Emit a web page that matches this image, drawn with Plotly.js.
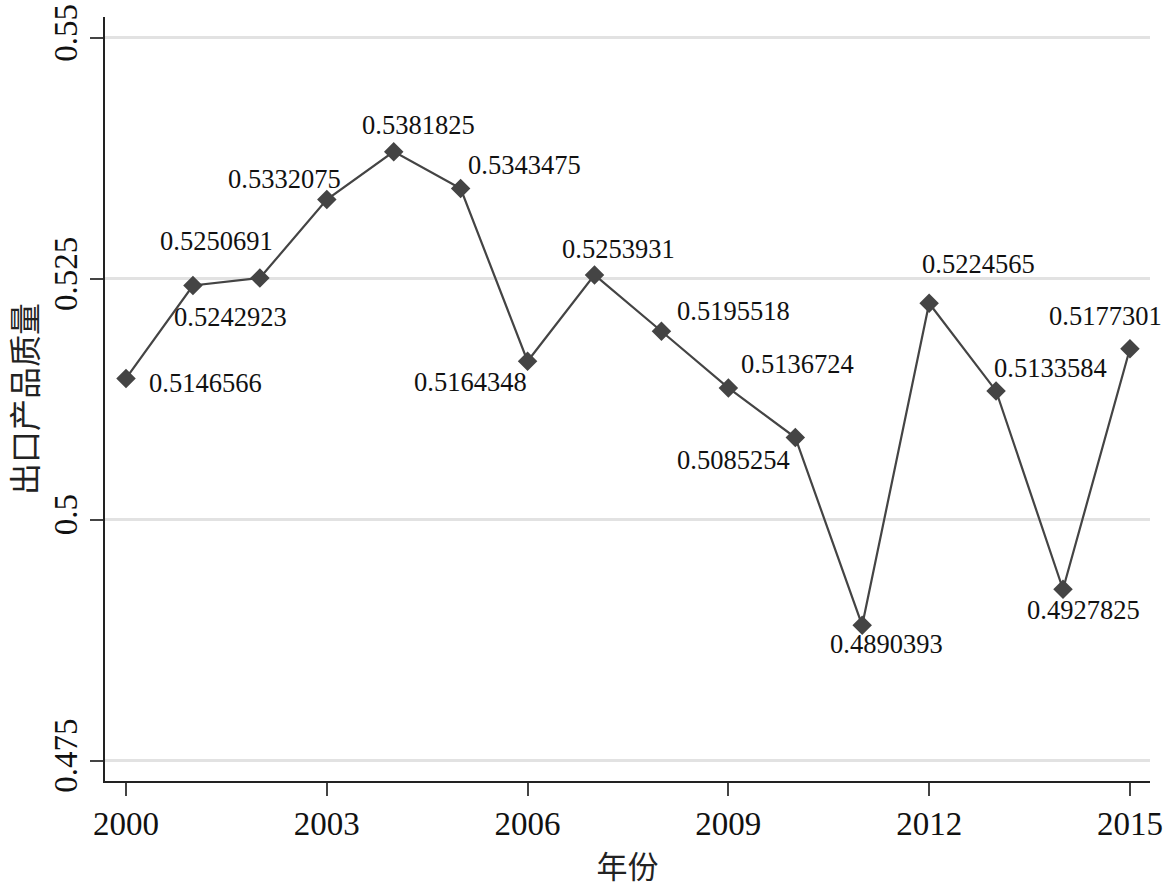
<!DOCTYPE html>
<html><head><meta charset="utf-8">
<script src="https://cdn.plot.ly/plotly-3.0.1.min.js"></script>
<style>html,body{margin:0;padding:0;background:#fff}#chart{width:1170px;height:887px}</style>
</head><body><div id="chart"></div>
<script>
const years = [2000,2001,2002,2003,2004,2005,2006,2007,2008,2009,2010,2011,2012,2013,2014,2015];
const quality = [0.5146566,0.5242923,0.5250691,0.5332075,0.5381825,0.5343475,0.5164348,0.5253931,0.5195518,0.5136724,0.5085254,0.4890393,0.5224565,0.5133584,0.4927825,0.5177301];
const xTicks = [2000,2003,2006,2009,2012,2015];
const yTicks = [0.475,0.5,0.525,0.55];
const yTickText = ['0.475','0.5','0.525','0.55'];
// label offsets (pixels, screen coordinates) of each marker label centre
const labelDX = [79,38,-43,-42,25,64,-57,24,72,69,-62,24,49,54,21,-24];
const labelDY = [5,31,-37,-21,-27,-24,21,-26,-20,-24,22,19,-39,-23,21,-33];

const serif = '"Times New Roman", "Liberation Serif", serif';
const annotations = years.map((y,i)=>({
  x:y, y:quality[i], xref:'x', yref:'y', text:String(quality[i]), showarrow:false,
  xanchor:'center', yanchor:'middle', xshift:labelDX[i], yshift:-labelDY[i],
  font:{family:serif,size:26.5,color:'#111'}
}));

Plotly.newPlot('chart',[{
  x:years, y:quality, type:'scatter', mode:'lines+markers',
  line:{color:'#444',width:2.2},
  marker:{symbol:'diamond',size:15,color:'#444'},
  hoverinfo:'x+y'
}],{
  width:1170,height:887,
  margin:{l:105,r:20,t:17,b:106},
  paper_bgcolor:'#fff',plot_bgcolor:'#fff',
  showlegend:false,
  xaxis:{range:[1999.686,2015.3],tickvals:xTicks,ticktext:xTicks.map(String),
    showgrid:false,zeroline:false,showline:true,linecolor:'#222',linewidth:1.5,
    ticks:'outside',ticklen:13,tickwidth:1.5,tickcolor:'#444',
    tickfont:{family:serif,size:33,color:'#111'},
    title:{text:'年份',font:{family:'Noto Sans CJK SC',size:31,color:'#222'},standoff:16}},
  yaxis:{range:[0.47289,0.55215],tickvals:yTicks,ticktext:yTickText,tickangle:-90,
    showgrid:true,gridcolor:'#e2e2e2',gridwidth:2.5,zeroline:false,showline:true,linecolor:'#222',linewidth:1.5,
    ticks:'outside',ticklen:13,tickwidth:1.5,tickcolor:'#444',
    tickfont:{family:serif,size:33,color:'#111'},
    title:{text:'出口产品质量',font:{family:'Noto Sans CJK SC',size:32,color:'#222'},standoff:16}},
  annotations:annotations
},{displayModeBar:false});
</script></body></html>
